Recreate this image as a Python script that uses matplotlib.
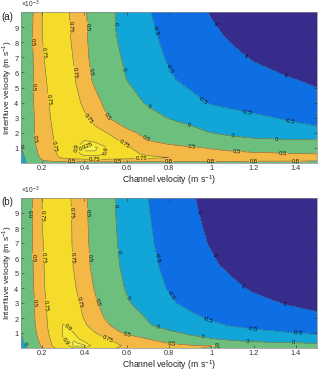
import numpy as np
import matplotlib
matplotlib.use("Agg")
import matplotlib.pyplot as plt
from matplotlib.colors import ListedColormap, BoundaryNorm
from matplotlib.ticker import ScalarFormatter

plt.rcParams['font.family'] = ['Liberation Sans', 'DejaVu Sans']
plt.rcParams['mathtext.fontset'] = 'custom'
plt.rcParams['mathtext.rm'] = 'Liberation Sans'

# channel velocity grid (m/s)
channel_v = [0.1, 0.13, 0.16, 0.2, 0.25, 0.3, 0.35, 0.4, 0.45, 0.5, 0.55, 0.6,
             0.7, 0.8, 0.9, 1.0, 1.1, 1.2, 1.35, 1.5]
# interfluve velocity grid (x1e-3 m/s)
interfluve_v = [0.0, 0.15, 0.35, 0.6, 1.0, 1.5, 2.0, 3.0, 4.0, 5.5, 7.0, 8.5, 10.0]

# panel (a) values, one row per interfluve velocity
z_a = [
    [-0.30, 0.05, 0.20, 0.28, 0.32, 0.35, 0.36, 0.37, 0.38, 0.38, 0.38, 0.38, 0.37, 0.36, 0.36, 0.35, 0.35, 0.34, 0.34, 0.33],
    [-0.25, 0.10, 0.30, 0.48, 0.55, 0.58, 0.60, 0.62, 0.63, 0.63, 0.62, 0.62, 0.60, 0.58, 0.57, 0.56, 0.55, 0.54, 0.53, 0.52],
    [-0.20, 0.15, 0.35, 0.55, 0.70, 0.78, 0.84, 0.87, 0.88, 0.87, 0.85, 0.83, 0.79, 0.75, 0.70, 0.66, 0.63, 0.61, 0.59, 0.57],
    [-0.12, 0.20, 0.42, 0.58, 0.72, 0.80, 0.87, 0.92, 0.92, 0.90, 0.86, 0.80, 0.72, 0.66, 0.62, 0.59, 0.56, 0.54, 0.52, 0.50],
    [-0.03, 0.25, 0.45, 0.60, 0.73, 0.82, 0.89, 0.93, 0.93, 0.91, 0.85, 0.77, 0.67, 0.60, 0.54, 0.48, 0.43, 0.39, 0.35, 0.32],
    [0.10, 0.33, 0.48, 0.62, 0.74, 0.83, 0.88, 0.90, 0.89, 0.85, 0.77, 0.70, 0.50, 0.38, 0.27, 0.20, 0.13, 0.08, 0.04, 0.02],
    [0.20, 0.35, 0.49, 0.62, 0.75, 0.84, 0.88, 0.87, 0.82, 0.76, 0.67, 0.57, 0.42, 0.27, 0.13, 0.00, -0.10, -0.19, -0.30, -0.40],
    [0.25, 0.37, 0.49, 0.64, 0.78, 0.86, 0.86, 0.78, 0.67, 0.53, 0.42, 0.32, 0.15, -0.02, -0.14, -0.24, -0.33, -0.42, -0.54, -0.63],
    [0.27, 0.38, 0.50, 0.66, 0.80, 0.86, 0.82, 0.71, 0.58, 0.45, 0.34, 0.19, -0.05, -0.22, -0.38, -0.54, -0.64, -0.72, -0.82, -0.90],
    [0.28, 0.38, 0.50, 0.69, 0.84, 0.85, 0.77, 0.61, 0.45, 0.29, 0.14, 0.00, -0.24, -0.45, -0.60, -0.71, -0.80, -0.88, -0.97, -1.05],
    [0.30, 0.40, 0.51, 0.73, 0.84, 0.84, 0.74, 0.57, 0.40, 0.22, 0.07, -0.08, -0.33, -0.55, -0.70, -0.82, -0.93, -1.03, -1.14, -1.23],
    [0.30, 0.40, 0.52, 0.75, 0.84, 0.83, 0.71, 0.55, 0.37, 0.18, 0.00, -0.14, -0.41, -0.62, -0.78, -0.93, -1.06, -1.16, -1.28, -1.38],
    [0.30, 0.40, 0.51, 0.75, 0.84, 0.82, 0.70, 0.54, 0.36, 0.17, -0.02, -0.17, -0.47, -0.68, -0.85, -1.03, -1.15, -1.25, -1.37, -1.47],
]

# panel (b) values
z_b = [
    [-0.25, 0.00, 0.25, 0.50, 0.72, 0.84, 0.90, 0.90, 0.85, 0.80, 0.75, 0.70, 0.62, 0.56, 0.52, 0.48, 0.40, 0.30, 0.20, 0.10],
    [-0.20, 0.05, 0.30, 0.55, 0.76, 0.87, 0.93, 0.93, 0.88, 0.82, 0.77, 0.73, 0.65, 0.58, 0.54, 0.51, 0.46, 0.38, 0.25, 0.12],
    [-0.15, 0.12, 0.35, 0.57, 0.78, 0.89, 0.93, 0.91, 0.86, 0.80, 0.75, 0.70, 0.60, 0.48, 0.35, 0.22, 0.12, 0.06, 0.01, -0.03],
    [-0.08, 0.20, 0.40, 0.60, 0.80, 0.90, 0.92, 0.88, 0.82, 0.76, 0.68, 0.62, 0.50, 0.30, 0.10, 0.02, -0.08, -0.16, -0.27, -0.36],
    [0.00, 0.25, 0.43, 0.64, 0.82, 0.91, 0.90, 0.83, 0.76, 0.66, 0.55, 0.46, 0.24, 0.08, -0.05, -0.17, -0.28, -0.37, -0.47, -0.55],
    [0.12, 0.32, 0.46, 0.67, 0.83, 0.905, 0.88, 0.78, 0.66, 0.55, 0.44, 0.31, 0.04, -0.15, -0.30, -0.42, -0.53, -0.62, -0.72, -0.80],
    [0.20, 0.35, 0.47, 0.68, 0.83, 0.88, 0.84, 0.74, 0.62, 0.48, 0.35, 0.22, -0.03, -0.22, -0.42, -0.55, -0.66, -0.75, -0.85, -0.93],
    [0.25, 0.37, 0.48, 0.70, 0.84, 0.87, 0.81, 0.69, 0.54, 0.39, 0.23, 0.05, -0.20, -0.45, -0.60, -0.71, -0.81, -0.90, -1.02, -1.10],
    [0.28, 0.39, 0.50, 0.72, 0.84, 0.86, 0.78, 0.64, 0.48, 0.32, 0.14, -0.04, -0.33, -0.53, -0.68, -0.80, -0.93, -1.05, -1.17, -1.27],
    [0.30, 0.40, 0.51, 0.73, 0.84, 0.85, 0.74, 0.59, 0.42, 0.24, 0.05, -0.10, -0.40, -0.60, -0.78, -0.95, -1.08, -1.18, -1.30, -1.40],
    [0.30, 0.40, 0.52, 0.74, 0.84, 0.84, 0.73, 0.57, 0.40, 0.20, 0.02, -0.13, -0.44, -0.65, -0.88, -1.03, -1.16, -1.27, -1.40, -1.50],
    [0.30, 0.40, 0.52, 0.75, 0.84, 0.83, 0.73, 0.56, 0.38, 0.18, 0.00, -0.15, -0.47, -0.68, -0.93, -1.07, -1.21, -1.33, -1.47, -1.59],
    [0.30, 0.40, 0.52, 0.75, 0.84, 0.83, 0.72, 0.55, 0.36, 0.17, -0.02, -0.17, -0.50, -0.72, -0.96, -1.12, -1.27, -1.40, -1.55, -1.68],
]

levels = [-1, -0.5, 0, 0.5, 0.75, 0.9, 0.925]
band_colors = ['#372b8c', '#0e6ee3', '#12a6d8', '#6dbf7e', '#f4b847', '#f5dc2a', '#f7e633', '#f9f14c']
x_ticks = [0.2, 0.4, 0.6, 0.8, 1.0, 1.2, 1.4]
x_ticklabels = ['0.2', '0.4', '0.6', '0.8', '1', '1.2', '1.4']
y_ticks = [1, 2, 3, 4, 5, 6, 7, 8, 9]
panel_labels = ['(a)', '(b)']

# where contour labels sit (channel velocity, interfluve velocity x1e-3)
label_spots_a = [
    (0.157, 8.0), (0.16, 5.0), (0.165, 1.6),
    (0.2, 7.3), (0.23, 4.2), (0.26, 1.1),
    (0.333, 9.0), (0.35, 6.0), (0.42, 2.9), (0.585, 1.2),
    (0.413, 9.0), (0.427, 6.0), (0.508, 3.1), (0.69, 1.55), (0.91, 1.07), (1.12, 0.8), (1.34, 0.66),
    (0.546, 9.2), (0.585, 6.2), (0.70, 3.6), (0.887, 2.3), (1.1, 1.75), (1.31, 1.6), (0.102, 1.2),
    (0.72, 8.7), (0.797, 6.2), (0.958, 4.1), (1.17, 3.3), (1.375, 2.8),
    (1.02, 9.2), (1.16, 7.0), (1.35, 5.7),
    (0.357, 1.0), (0.52, 0.75), (0.41, 1.05),
    (0.34, 0.1), (0.56, 0.1), (0.8, 0.1), (1.0, 0.1), (1.2, 0.1), (1.4, 0.1),
    (0.45, 0.25), (0.67, 0.3),
]
label_spots_b = [
    (0.157, 9.0), (0.157, 6.0), (0.167, 3.0),
    (0.2, 8.8), (0.205, 6.0), (0.21, 2.8),
    (0.342, 9.0), (0.345, 6.0), (0.37, 3.0), (0.51, 0.6),
    (0.418, 9.0), (0.427, 6.0), (0.46, 3.0), (0.6, 0.9), (0.815, 0.27), (1.03, 0.15),
    (0.546, 9.5), (0.56, 6.4), (0.6, 3.3), (0.745, 1.25), (0.96, 0.65), (1.17, 0.45), (1.39, 0.35), (0.12, 0.3),
    (0.727, 6.0), (0.79, 3.3), (0.98, 1.65), (1.195, 1.25), (1.41, 1.0),
    (0.935, 9.0), (0.996, 6.0), (1.14, 3.9), (1.345, 2.9),
    (0.32, 1.3), (0.32, 0.5),
]

fig = plt.figure(figsize=(3.2, 3.72), dpi=100)
W, H = 320, 372
rects = [[21 / W, 1 - 163 / H, 296 / W, 151 / H],
         [21 / W, 1 - 348 / H, 296 / W, 150 / H]]

cmap = ListedColormap(band_colors)
bounds = [-3] + levels + [3]
norm = BoundaryNorm(bounds, cmap.N)

X = np.array(channel_v)
Y = np.array(interfluve_v) * 1e-3


def fmt(v):
    return '%g' % v


for rect, z, lab, spots in zip(rects, [z_a, z_b], panel_labels, [label_spots_a, label_spots_b]):
    ax = fig.add_axes(rect)
    Z = np.array(z)
    ax.contourf(X, Y, Z, levels=bounds, cmap=cmap, norm=norm)
    cs = ax.contour(X, Y, Z, levels=levels, colors='#505050', linewidths=0.35)
    ax.set_xlim(0.1, 1.5)
    ax.set_ylim(0, 0.01)
    ax.clabel(cs, levels, fmt=fmt, fontsize=4.3, inline=True, inline_spacing=0.5,
              colors='#111111',
              manual=[(sx, sy * 1e-3) for sx, sy in spots])
    ax.set_xticks(x_ticks)
    ax.set_xticklabels(x_ticklabels)
    ax.set_yticks([t * 1e-3 for t in y_ticks])
    sf = ScalarFormatter(useMathText=True)
    sf.set_powerlimits((-2, 2))
    ax.yaxis.set_major_formatter(sf)
    ot = ax.yaxis.get_offset_text()
    ot.set_fontsize(4.8)
    ot.set_color('#444444')
    ax.tick_params(direction='in', length=2, width=0.4, labelsize=5.3,
                   colors='#333333', pad=1.2, top=True, right=True)
    for sp in ax.spines.values():
        sp.set_linewidth(0.5)
        sp.set_color('#888888')
    ax.set_xlabel('Channel velocity (m s$^{-1}$)', fontsize=6.2, labelpad=1, color='#222222')
    ax.set_ylabel('Interfluve velocity (m s$^{-1}$)', fontsize=6.0, color='#222222')
    ax.yaxis.set_label_coords(-6.5 / 296, 0.5)
    top_px = (1 - rect[1] - rect[3]) * H
    fig.text(1.5 / W, 1 - (top_px + 4.5) / H, lab, fontsize=7, va='center', ha='left', color='#222222')

fig.savefig('out.png', dpi=100)
